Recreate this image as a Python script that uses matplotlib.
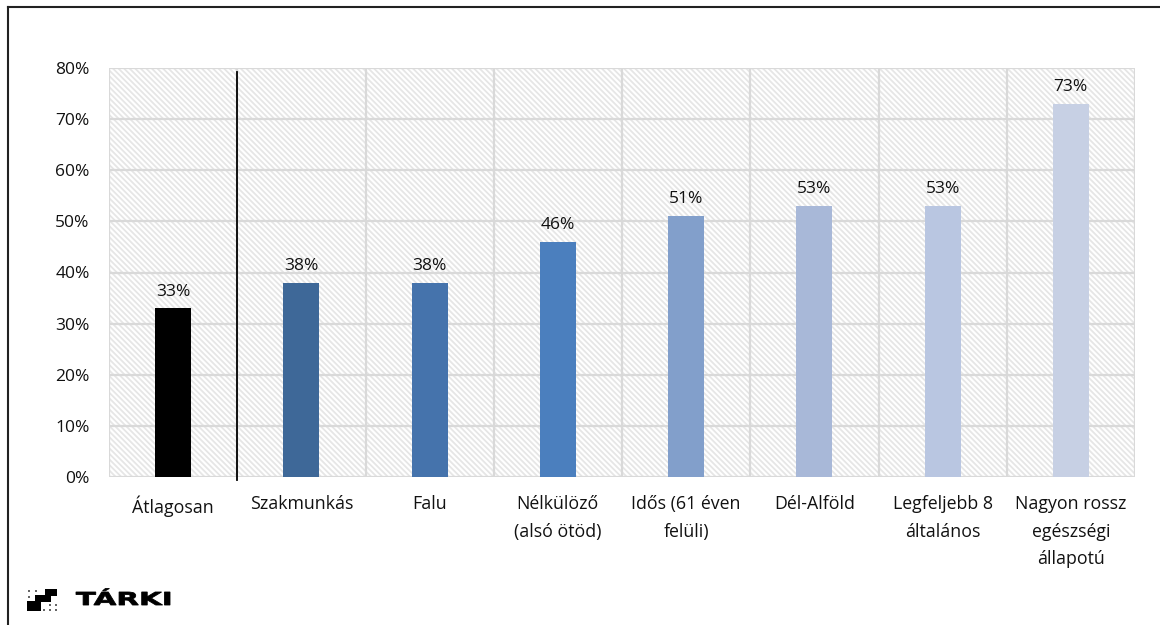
import numpy as np
from matplotlib import pyplot as plt
from matplotlib.patches import Rectangle, PathPatch
from matplotlib.lines import Line2D
from matplotlib.textpath import TextPath
from matplotlib.font_manager import FontProperties
from matplotlib.transforms import Affine2D, IdentityTransform

# 数据
categories = ['Átlagosan', 'Szakmunkás', 'Falu', 'Nélkülöző\n(alsó ötöd)',
              'Idős (61 éven\nfelüli)', 'Dél-Alföld', 'Legfeljebb 8\náltalános',
              'Nagyon rossz\negészségi\nállapotú']
values = [33, 38, 38, 46, 51, 53, 53, 73]
colors = ['#000000', '#3E6898', '#4573AC', '#4B7FBE', '#829FCB', '#A8B8D8', '#B9C6E1', '#C7D0E4']
yticks = [0, 10, 20, 30, 40, 50, 60, 70, 80]

plt.rcParams['font.family'] = ['Open Sans', 'DejaVu Sans']
plt.rcParams['hatch.linewidth'] = 1.3

W, H = 1160, 625
fig = plt.figure(figsize=(W / 100, H / 100), dpi=100)
ax = fig.add_axes([109 / W, 1 - 477 / H, (1135 - 109) / W, (477 - 68) / H])

n = len(categories)
x = np.arange(n)
ax.set_xlim(-0.5, n - 0.5)
ax.set_ylim(0, 80)

# 斜线底纹背景
ax.add_patch(Rectangle((0, 0), 1, 1, transform=ax.transAxes, facecolor='white',
                       edgecolor='#E6E6E6', linewidth=0, hatch='\\' * 6, zorder=0))

# 网格线
for y in yticks:
    ax.axhline(y, color='#D9D9D9', linewidth=1.6, zorder=1)
for b in np.arange(-0.5, n, 1.0):
    ax.axvline(b, color='#D9D9D9', linewidth=1.6, zorder=1)

ax.bar(x, values, width=0.28, color=colors, zorder=2)
for xi, v in zip(x, values):
    ax.text(xi, v + 2.5, '%d%%' % v, ha='center', va='baseline', fontsize=12.5, color='#111111')

# 平均值分隔线
ax.plot([0.5, 0.5], [-0.6, 79.2], color='black', linewidth=1.3, zorder=3, clip_on=False)

for s in ax.spines.values():
    s.set_visible(False)
ax.set_yticks(yticks)
ax.set_yticklabels(['%d%%' % y for y in yticks], fontsize=12.5)
ax.set_xticks(x)
ax.set_xticklabels(categories, fontsize=12.8, va='top', linespacing=1.68)
ax.tick_params(axis='both', length=0, colors='#111111')
ax.tick_params(axis='y', pad=14)
ax.tick_params(axis='x', pad=13)

# 外框
fig.add_artist(Line2D([8 / W, 8 / W], [0, 1 - 7 / H], color='#222222', linewidth=1.5))
fig.add_artist(Line2D([8 / W, 1], [1 - 7 / H, 1 - 7 / H], color='#222222', linewidth=1.5))

# 标志：阶梯图形（像素坐标，y 向下）
black_rects = [(45, 589, 57, 596), (35, 595, 51, 602), (27, 601, 41, 611)]
gray_dots = [(28, 590), (35, 590), (28, 596), (49, 604), (55, 604), (43, 609), (49, 609), (55, 609)]
for x0, y0, x1, y1 in black_rects:
    fig.add_artist(Rectangle((x0 / W, 1 - y1 / H), (x1 - x0) / W, (y1 - y0) / H,
                             transform=fig.transFigure, facecolor='black', edgecolor='none'))
for dx, dy in gray_dots:
    fig.add_artist(Rectangle((dx / W, 1 - (dy + 2) / H), 2 / W, 2 / H,
                             transform=fig.transFigure, facecolor='#666666', edgecolor='none'))

# 标志：文字（横向拉宽的粗体）
fp = FontProperties(family='DejaVu Sans', weight='bold')
tp = TextPath((0, 0), 'TÁRKI', size=1, prop=fp)
ext = tp.get_extents()
sx = 94 / ext.width
sy = 13 / 0.729
logo_tf = Affine2D().translate(-ext.x0, 0).scale(sx, sy).translate(76, H - 605)
fig.add_artist(PathPatch(logo_tf.transform_path(tp), transform=IdentityTransform(),
                         facecolor='black', edgecolor='black', linewidth=0.6))

fig.savefig('out.png', dpi=100)
